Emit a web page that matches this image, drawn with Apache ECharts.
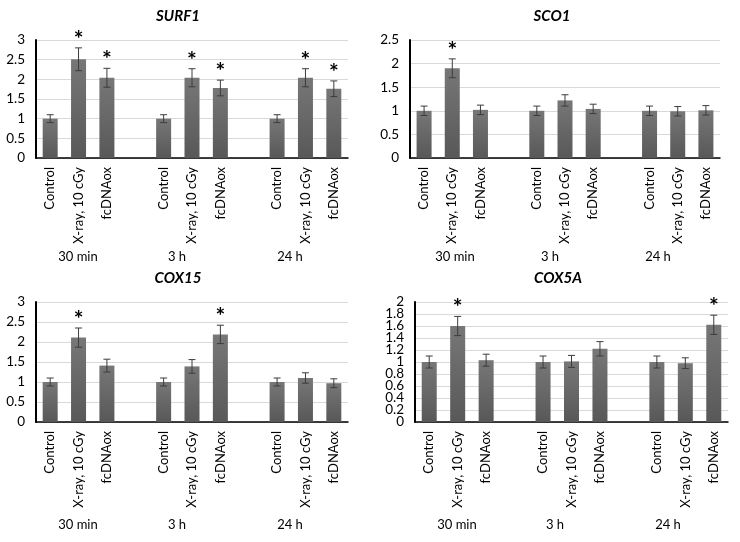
<!DOCTYPE html>
<html>
<head>
<meta charset="utf-8">
<script src="https://cdn.jsdelivr.net/npm/echarts@6/dist/echarts.min.js"></script>
<style>html,body{margin:0;padding:0;background:#fff}#c{width:740px;height:542px}</style>
</head>
<body>
<div id="c"></div>
<script>
var categories = ['Control','X-ray, 10 cGy','fcDNAox','','Control','X-ray, 10 cGy','fcDNAox','','Control','X-ray, 10 cGy','fcDNAox'];
var timeLabels = ['30 min','3 h','24 h'];
var titles = ['SURF1','SCO1','COX15','COX5A'];

var surf1Mean = [1.0, 2.51, 2.04, null, 1.0, 2.04, 1.78, null, 1.0, 2.04, 1.76];
var surf1Err  = [0.1, 0.29, 0.24, null, 0.1, 0.23, 0.2, null, 0.1, 0.23, 0.2];
var surf1Sig  = [0, 1, 1, 0, 0, 1, 1, 0, 0, 1, 1];

var sco1Mean = [1.0, 1.9, 1.02, null, 1.0, 1.22, 1.04, null, 1.0, 0.99, 1.01];
var sco1Err  = [0.1, 0.2, 0.1, null, 0.1, 0.12, 0.1, null, 0.1, 0.1, 0.1];
var sco1Sig  = [0, 1, 0, 0, 0, 0, 0, 0, 0, 0, 0];

var cox15Mean = [1.0, 2.11, 1.41, null, 1.0, 1.39, 2.19, null, 1.0, 1.1, 0.97];
var cox15Err  = [0.1, 0.24, 0.16, null, 0.1, 0.17, 0.23, null, 0.1, 0.13, 0.11];
var cox15Sig  = [0, 1, 0, 0, 0, 0, 1, 0, 0, 0, 0];

var cox5aMean = [1.0, 1.6, 1.03, null, 1.0, 1.01, 1.22, null, 1.0, 0.98, 1.62];
var cox5aErr  = [0.1, 0.16, 0.1, null, 0.1, 0.1, 0.12, null, 0.1, 0.09, 0.16];
var cox5aSig  = [0, 1, 0, 0, 0, 0, 0, 0, 0, 0, 1];

var cox5aTicks = [0, 0.2, 0.4, 0.6, 0.8, 1, 1.2, 1.4, 1.6, 1.8, 2];

var yMax = [3, 2.5, 3, 2];
var yInterval = [0.5, 0.5, 0.5, 0.2];

var panels = [
  {mean: surf1Mean, err: surf1Err, sig: surf1Sig},
  {mean: sco1Mean, err: sco1Err, sig: sco1Sig},
  {mean: cox15Mean, err: cox15Err, sig: cox15Sig},
  {mean: cox5aMean, err: cox5aErr, sig: cox5aSig}
];

var grids = [
  {left: 36, top: 40, width: 312, height: 118},
  {left: 410, top: 40, width: 310, height: 118},
  {left: 36, top: 302, width: 312, height: 120},
  {left: 415, top: 302, width: 313, height: 120}
];

var FONT = 'Lato';
var chart = echarts.init(document.getElementById('c'), null, {renderer: 'canvas'});

var xAxes = [], yAxes = [], series = [];
panels.forEach(function (p, i) {
  xAxes.push({
    type: 'category', gridIndex: i, data: categories,
    axisLine: {lineStyle: {color: '#000', width: 1.5}},
    axisTick: {show: false},
    axisLabel: {rotate: 90, interval: 0, margin: 9, color: '#000', fontSize: 13, fontFamily: FONT}
  });
  yAxes.push({
    type: 'value', gridIndex: i, min: 0, max: yMax[i], interval: yInterval[i],
    axisLine: {show: true, lineStyle: {color: '#000', width: 2}},
    axisTick: {show: false},
    axisLabel: {show: i !== 3, margin: 11, color: '#000', fontSize: 13.5, fontFamily: FONT},
    splitLine: {lineStyle: {color: '#d9d9d9', width: 1}}
  });
  series.push({
    type: 'bar', xAxisIndex: i, yAxisIndex: i, data: p.mean, barWidth: 15,
    itemStyle: {color: new echarts.graphic.LinearGradient(0, 0, 0, 1, [
      {offset: 0, color: '#777777'}, {offset: 1, color: '#585858'}])},
    silent: true
  });
  var errData = [];
  p.mean.forEach(function (m, k) {
    if (m !== null) errData.push([k, m, p.err[k], p.sig[k]]);
  });
  series.push({
    type: 'custom', xAxisIndex: i, yAxisIndex: i, data: errData, silent: true, z: 5,
    encode: {x: 0, y: 1},
    renderItem: function (params, api) {
      var x = api.value(0), m = api.value(1), e = api.value(2), s = api.value(3);
      var hi = api.coord([x, m + e]);
      var lo = api.coord([x, m - e]);
      var cw = 3.5;
      var style = {stroke: '#3c3c3c', lineWidth: 1};
      var children = [
        {type: 'line', shape: {x1: hi[0], y1: hi[1], x2: lo[0], y2: lo[1]}, style: style},
        {type: 'line', shape: {x1: hi[0] - cw, y1: hi[1], x2: hi[0] + cw, y2: hi[1]}, style: style},
        {type: 'line', shape: {x1: lo[0] - cw, y1: lo[1], x2: lo[0] + cw, y2: lo[1]}, style: style}
      ];
      if (s) {
        children.push({type: 'text', x: hi[0], y: hi[1] + 3,
          style: {text: '*', fill: '#000', fontSize: 23, fontWeight: 'bold', fontFamily: FONT,
            align: 'center', verticalAlign: 'bottom'}});
      }
      return {type: 'group', children: children};
    }
  });
});

// COX5A y tick labels (dense; drawn through the axis scale to avoid overlap hiding)
series.push({
  type: 'custom', xAxisIndex: 3, yAxisIndex: 3, silent: true, clip: false,
  data: cox5aTicks.map(function (v) { return [0, v]; }),
  encode: {x: 0, y: 1},
  renderItem: function (params, api) {
    var pt = api.coord([0, api.value(1)]);
    var left = params.coordSys.x;
    return {type: 'text', x: left - 11, y: pt[1],
      style: {text: String(api.value(1)), fill: '#000', fontSize: 13.5, fontFamily: FONT,
        align: 'right', verticalAlign: 'middle'}};
  }
});

var titlePos = [[178, 16], [552, 16], [178, 278], [558, 278]];
var timePos = [
  [[78, 257], [177, 257], [290, 257]],
  [[455, 257], [550, 257], [658, 257]],
  [[78, 525], [177, 525], [290, 525]],
  [[457, 525], [555, 525], [668, 525]]
];
var graphics = [];
titles.forEach(function (t, i) {
  graphics.push({type: 'text', x: titlePos[i][0], y: titlePos[i][1],
    style: {text: t, fill: '#000', fontSize: 15, fontWeight: 'bold', fontStyle: 'italic',
      fontFamily: FONT, align: 'center', verticalAlign: 'middle'}});
  timePos[i].forEach(function (pos, k) {
    graphics.push({type: 'text', x: pos[0], y: pos[1],
      style: {text: timeLabels[k], fill: '#000', fontSize: 13, fontFamily: FONT,
        align: 'center', verticalAlign: 'middle'}});
  });
});

chart.setOption({
  animation: false,
  backgroundColor: '#fff',
  grid: grids,
  xAxis: xAxes,
  yAxis: yAxes,
  series: series,
  graphic: graphics
});
</script>
</body>
</html>
